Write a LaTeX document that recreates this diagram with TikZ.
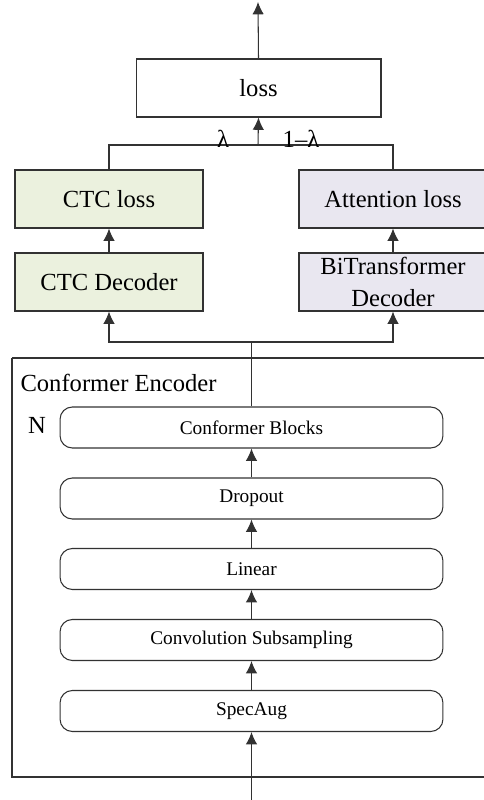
\documentclass[tikz,border=0pt]{standalone}
\usepackage{fontspec}
\setmainfont{Liberation Serif}
\usetikzlibrary{arrows.meta}
\definecolor{ctcgreen}{RGB}{235,241,222}
\definecolor{attpurple}{RGB}{233,231,240}
\definecolor{linegray}{RGB}{50,50,50}
\tikzset{
  >={Latex[length=7pt,width=6.5pt]},
  bigbox/.style={draw=linegray,line width=0.6pt,minimum width=3.76cm,minimum height=1.16cm,inner sep=0pt,font=\fontsize{14}{16}\selectfont,align=center},
  layer/.style={draw=linegray,line width=0.6pt,rounded corners=7pt,minimum width=7.66cm,minimum height=0.82cm,inner sep=0pt,font=\fontsize{11}{13}\selectfont}
}
\begin{document}
\begin{tikzpicture}[x=0.02cm,y=-0.02cm,line width=0.6pt,draw=linegray]
  \useasboundingbox (0,0) rectangle (483,800);
  % loss part
  \node[bigbox,minimum width=4.9cm] (loss) at (258.5,88) {loss};
  \node[bigbox,fill=ctcgreen] (ctcloss) at (109,199) {CTC loss};
  \node[bigbox,fill=attpurple] (attloss) at (393,199) {Attention loss};
  \node[bigbox,fill=ctcgreen] (ctcdec) at (109,282) {CTC Decoder};
  \node[bigbox,fill=attpurple] (bidec) at (393,282) {BiTransformer\\[2pt]Decoder};
  \coordinate (out) at (258,2);
  \draw[->] (loss.north) -- (out);
  \coordinate (j) at (258,145);
  \draw (ctcloss.north) |- (j) -| (attloss.north);
  \draw[->] (j) -- (loss.south);
  \node[font=\fontsize{14}{16}\selectfont] (lam) at (223,139) {λ};
  \node[font=\fontsize{14}{16}\selectfont] (oneminus) at (301,139) {1–λ};
  \draw[->] (ctcdec.north) -- (ctcloss.south);
  \draw[->] (bidec.north) -- (attloss.south);
  % encoder
  \draw (12,358) -- (490,358) (12,358) -- (12,777) -- (490,777);
  \node[anchor=west,font=\fontsize{14}{16}\selectfont,inner sep=0pt] (enclabel) at (20,383) {Conformer Encoder};
  \node[font=\fontsize{14}{16}\selectfont] (n) at (37,425) {N};
  \node[layer] (blocks) at (251.5,427.5) {Conformer Blocks};
  \node[layer] (dropout) at (251.5,498.5) {Dropout};
  \node[layer] (linear) at (251.5,569) {Linear};
  \node[layer] (conv) at (251.5,640) {Convolution Subsampling};
  \node[layer] (spec) at (251.5,711) {SpecAug};
  \draw[->] (dropout) -- (blocks);
  \draw[->] (linear) -- (dropout);
  \draw[->] (conv) -- (linear);
  \draw[->] (spec) -- (conv);
  \coordinate (in) at (251.5,800);
  \draw[->] (in) -- (spec.south);
  % to the decoders
  \coordinate (s) at (251.5,342);
  \draw (blocks.north) -- (s);
  \draw[->] (s) -| (ctcdec.south);
  \draw[->] (s) -| (bidec.south);
\end{tikzpicture}
\end{document}
